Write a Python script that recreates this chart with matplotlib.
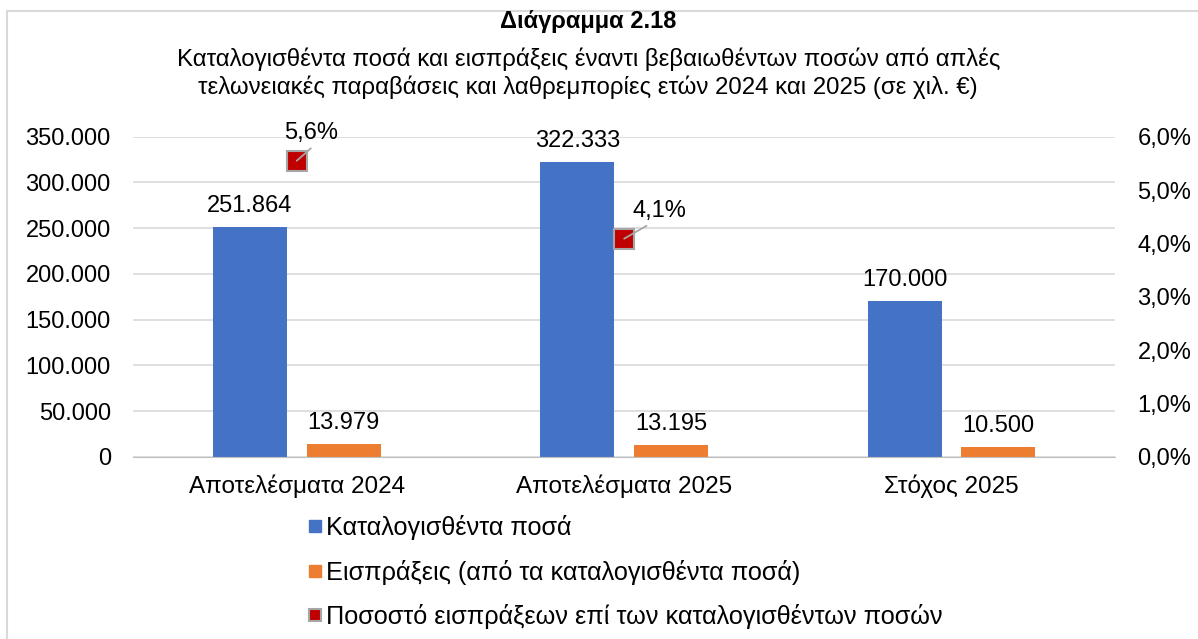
import matplotlib
matplotlib.use('Agg')
import matplotlib.pyplot as plt
from matplotlib.patches import Rectangle
from matplotlib.lines import Line2D
from matplotlib.ticker import FuncFormatter
import numpy as np

plt.rcParams['font.family'] = ['Liberation Sans', 'DejaVu Sans']

categories = ['Αποτελέσματα 2024', 'Αποτελέσματα 2025', 'Στόχος 2025']
assessed = [251864, 322333, 170000]
collected = [13979, 13195, 10500]
# ratio only shown for the first two categories
pct_values = [5.55, 4.09]
pct_labels = ['5,6%', '4,1%']

blue = '#4472C4'
orange = '#ED7D31'
red = '#C00000'
edge = '#a6a6a6'


def thousands(v, pos=None):
    return f'{int(round(v)):,}'.replace(',', '.')


def percent(v, pos=None):
    return f'{v:.1f}%'.replace('.', ',')


fig = plt.figure(figsize=(11.98, 6.39), dpi=100)
ax = fig.add_axes([0.111, 0.285, 0.82, 0.501])
ax2 = ax.twinx()

x = np.arange(len(categories))
w = 0.226
off = 0.143

ax.bar(x - off, assessed, w, color=blue, zorder=2)
ax.bar(x + off, collected, w, color=orange, zorder=2)

for xi, v in zip(x, assessed):
    ax.annotate(thousands(v), (xi - off, v), xytext=(0, 10), textcoords='offset pixels',
                ha='center', va='bottom', fontsize=17)
for xi, v in zip(x, collected):
    ax.annotate(thousands(v), (xi + off, v), xytext=(0, 10), textcoords='offset pixels',
                ha='center', va='bottom', fontsize=17)

ax.set_ylim(0, 350000)
ax.set_yticks(np.arange(0, 350001, 50000))
ax.yaxis.set_major_formatter(FuncFormatter(thousands))
ax.set_xlim(-0.5, 2.5)
ax.set_xticks(x)
ax.set_xticklabels(categories, fontsize=17.5)
ax.grid(axis='y', color='#d9d9d9', linewidth=1.2, zorder=0)
ax.set_axisbelow(True)
for s in ['top', 'left', 'right']:
    ax.spines[s].set_visible(False)
ax.spines['bottom'].set_color('#bfbfbf')
ax.tick_params(axis='x', length=0, pad=13)
ax.tick_params(axis='y', length=0, labelsize=17, pad=16)

ax2.set_ylim(0, 6)
ax2.set_yticks(np.arange(0, 6.01, 1))
ax2.yaxis.set_major_formatter(FuncFormatter(percent))
for s in ax2.spines.values():
    s.set_visible(False)
ax2.tick_params(axis='y', length=0, labelsize=17, pad=16)

px = x[:len(pct_values)]
ax2.plot(px, pct_values, linestyle='none', marker='s', markersize=14,
         markerfacecolor=red, markeredgecolor=edge, markeredgewidth=1.5, zorder=3)
label_offsets = [(14, 28), (35, 28)]
label_rel = [(0.6, 0), (0.4, 0)]
for xi, v, t, (dx, dy), rp in zip(px, pct_values, pct_labels, label_offsets, label_rel):
    ax2.annotate(t, (xi, v), xytext=(dx, dy), textcoords='offset pixels',
                 ha='center', va='center', fontsize=17, zorder=4,
                 arrowprops=dict(arrowstyle='-', color=edge, lw=1.3,
                                 shrinkA=2, shrinkB=0, relpos=rp))

fig.text(0.491, 0.985, 'Διάγραμμα 2.18', ha='center', va='top', fontsize=17, fontweight='bold')
fig.text(0.491, 0.925, 'Καταλογισθέντα ποσά και εισπράξεις έναντι βεβαιωθέντων ποσών από απλές\n'
         'τελωνειακές παραβάσεις και λαθρεμπορίες ετών 2024 και 2025 (σε χιλ. €)',
         ha='center', va='top', fontsize=17.3, linespacing=1.2)

handles = [
    Line2D([], [], linestyle='none', marker='s', markersize=8.5, markerfacecolor=blue, markeredgecolor=blue),
    Line2D([], [], linestyle='none', marker='s', markersize=8.5, markerfacecolor=orange, markeredgecolor=orange),
    Line2D([], [], linestyle='none', marker='s', markersize=8.5, markerfacecolor=red,
           markeredgecolor=edge, markeredgewidth=1.5),
]
labels = ['Καταλογισθέντα ποσά', 'Εισπράξεις (από τα καταλογισθέντα ποσά)',
          'Ποσοστό εισπράξεων επί των καταλογισθέντων ποσών']
fig.legend(handles, labels, loc='upper left', bbox_to_anchor=(0.247, 0.214),
           frameon=False, fontsize=18.2, handlelength=0.55, handletextpad=0.15,
           labelspacing=0.78, borderpad=0)

fig.add_artist(Rectangle((7 / 1198, -0.1), 1.2, 1.1 - 11 / 639, transform=fig.transFigure,
                         fill=False, edgecolor='#d9d9d9', linewidth=1.5))

fig.savefig('out.png', dpi=100)
